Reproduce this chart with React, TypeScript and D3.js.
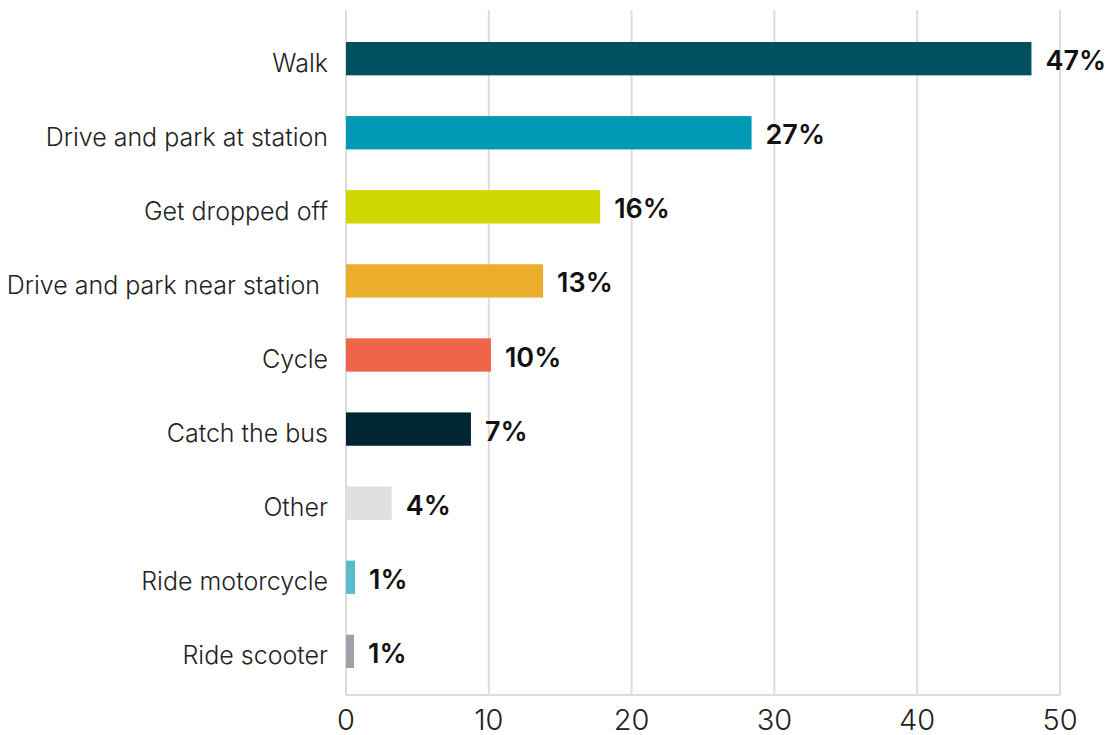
import React from 'react';
import * as d3 from 'd3';

const categories = [
  'Walk',
  'Drive and park at station',
  'Get dropped off',
  'Drive and park near station',
  'Cycle',
  'Catch the bus',
  'Other',
  'Ride motorcycle',
  'Ride scooter',
];
// bar lengths as drawn
const values = [48.0, 28.4, 17.8, 13.8, 10.15, 8.75, 3.2, 0.63, 0.56];
// printed labels
const valueLabels = ['47%', '27%', '16%', '13%', '10%', '7%', '4%', '1%', '1%'];
const colors = ['#004f5f', '#0099b5', '#cfd600', '#ebad2b', '#ef654a', '#002633', '#e0e0e0', '#57bccb', '#a0a0a8'];
const xTicks = [0, 10, 20, 30, 40, 50];

const width = 1107;
const height = 735;
const margin = { left: 346, right: 47, top: 22, bottom: 47 };

export default function App() {
  const x = d3.scaleLinear().domain([0, 50]).range([margin.left, width - margin.right]);
  const y = d3
    .scaleBand<string>()
    .domain(categories)
    .range([margin.top, height - margin.bottom])
    .paddingInner(0.55)
    .paddingOuter(0.27);

  const axisY = 695;
  const font = 'Inter, "Noto Sans", sans-serif';

  return (
    <svg
      width={width}
      height={height}
      style={{ position: 'absolute', left: 0, top: 0, background: '#fff' }}
      fontFamily={font}
    >
      {/* gridlines */}
      {xTicks.map((t) => (
        <line key={t} x1={x(t)} x2={x(t)} y1={10} y2={axisY} stroke="#dcdcdc" strokeWidth={2} />
      ))}
      <line x1={x(0)} x2={x(50)} y1={axisY} y2={axisY} stroke="#dcdcdc" strokeWidth={2} />

      {/* bars */}
      {categories.map((c, i) => {
        const yc = (y(c) ?? 0) + y.bandwidth() / 2;
        return (
          <g key={c}>
            <rect x={x(0)} y={y(c)} width={x(values[i]) - x(0)} height={y.bandwidth()} fill={colors[i]} />
            <text
              x={i === 3 ? 320 : 328}
              y={yc + 4}
              textAnchor="end"
              dominantBaseline="central"
              fontSize={25}
              fontWeight={300}
              fill="#222"
            >
              {c}
            </text>
            <text
              x={x(values[i]) + 14}
              y={yc + 2}
              dominantBaseline="central"
              fontSize={27}
              fontWeight={600}
              fill="#111"
            >
              {valueLabels[i]}
            </text>
          </g>
        );
      })}

      {/* x tick labels */}
      {xTicks.map((t) => (
        <text key={t} x={x(t)} y={719} textAnchor="middle" dominantBaseline="central" fontSize={29} fontWeight={300} fill="#222">
          {t}
        </text>
      ))}
    </svg>
  );
}
